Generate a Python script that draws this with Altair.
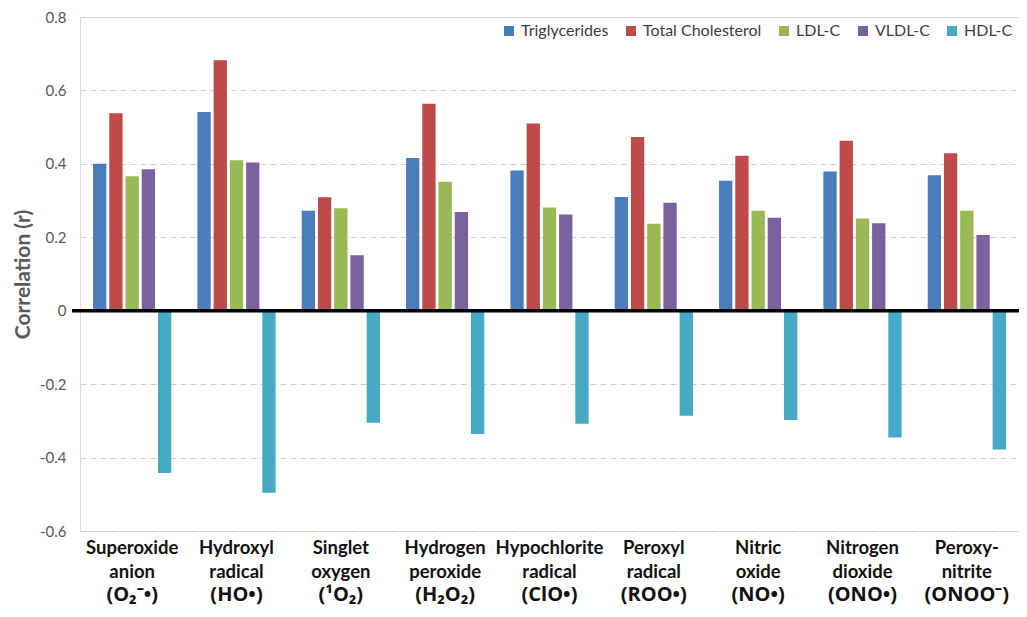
import altair as alt
import pandas as pd

line1 = ["Superoxide", "Hydroxyl", "Singlet", "Hydrogen", "Hypochlorite",
         "Peroxyl", "Nitric", "Nitrogen", "Peroxy-"]
line2 = ["anion", "radical", "oxygen", "peroxide", "radical",
         "radical", "oxide", "dioxide", "nitrite"]
formula = ["(O\u2082\u207b\u2022)", "(HO\u2022)", "(\u00b9O\u2082)", "(H\u2082O\u2082)", "(ClO\u2022)",
           "(ROO\u2022)", "(NO\u2022)", "(ONO\u2022)", "(ONOO\u207b)"]
categories = [a + " " + b for a, b in zip(line1, line2)]

series = ["Triglycerides", "Total Cholesterol", "LDL-C", "VLDL-C", "HDL-C"]
colors = ["#4a7ebb", "#be4b48", "#98b954", "#7d60a0", "#46aac5"]

triglycerides = [0.400, 0.541, 0.272, 0.416, 0.382, 0.310, 0.354, 0.379, 0.369]
total_chol = [0.538, 0.682, 0.309, 0.564, 0.510, 0.473, 0.422, 0.463, 0.429]
ldl = [0.366, 0.410, 0.279, 0.351, 0.281, 0.237, 0.272, 0.251, 0.272]
vldl = [0.385, 0.404, 0.151, 0.269, 0.262, 0.294, 0.253, 0.238, 0.206]
hdl = [-0.442, -0.496, -0.305, -0.336, -0.308, -0.286, -0.298, -0.345, -0.378]

y_ticks = [-0.6, -0.4, -0.2, 0, 0.2, 0.4, 0.6, 0.8]

rows = []
for s, vals in zip(series, [triglycerides, total_chol, ldl, vldl, hdl]):
    for c, v in zip(categories, vals):
        rows.append({"cat": c, "series": s, "value": v})
bar_df = pd.DataFrame(rows)
lab_df = pd.DataFrame({"cat": categories, "l1": line1, "l2": line2, "f": formula})

W, H = 939, 514
FONT = "Lato"

xscale = alt.Scale(paddingInner=0.25, paddingOuter=0.125)
xenc = alt.X("cat:N", sort=categories, axis=None, scale=xscale)

bars = alt.Chart(bar_df).mark_bar().encode(
    x=xenc,
    xOffset=alt.XOffset("series:N", sort=series, scale=alt.Scale(paddingInner=0.18)),
    y=alt.Y("value:Q",
            scale=alt.Scale(domain=[-0.6, 0.8], nice=False, zero=False),
            axis=alt.Axis(values=y_ticks, labelExpr="'' + datum.value",
                          title="Correlation (r)", grid=True, gridDash=[6, 4],
                          gridColor="#cfcfcf", gridWidth=1, domain=False, ticks=False,
                          labelFontSize=15, labelColor="#595959", labelPadding=14,
                          labelFont=FONT, titleFont=FONT, titleFontSize=21,
                          titleFontWeight="bold", titleColor="#595959", titlePadding=6)),
    color=alt.Color("series:N", sort=series,
                    scale=alt.Scale(domain=series, range=colors),
                    legend=alt.Legend(title=None, orient="top-right", direction="horizontal",
                                      offset=6, symbolType="square", symbolSize=100,
                                      labelFontSize=16, labelFont=FONT, labelColor="#404040",
                                      columnPadding=14, labelOffset=4,
                                      symbolStrokeWidth=0)),
)

zero = alt.Chart(pd.DataFrame({"z": [0]})).mark_rule(color="black", strokeWidth=3.5).encode(
    y=alt.Y("z:Q"), x=alt.value(-8), x2=alt.value(W)
)

def txt(field, yoff, size, font=FONT):
    return alt.Chart(lab_df).mark_text(
        font=font, fontWeight="bold", fontSize=size, color="#111111",
        baseline="middle", align="center"
    ).encode(x=xenc, y=alt.value(H + yoff), text=f"{field}:N")

chart = alt.layer(
    bars, zero,
    txt("l1", 17, 18.5), txt("l2", 41, 18.5), txt("f", 64, 20, "Open Sans")
).properties(
    width=W, height=H,
    autosize=alt.AutoSizeParams(type="none"),
    padding={"left": 72, "top": 9, "right": 0, "bottom": 78},
).configure_view(
    stroke="#7f7f7f", strokeWidth=1.5
).configure(background="white")

chart.save("out.html", embed_options={"renderer": "svg", "actions": False})
